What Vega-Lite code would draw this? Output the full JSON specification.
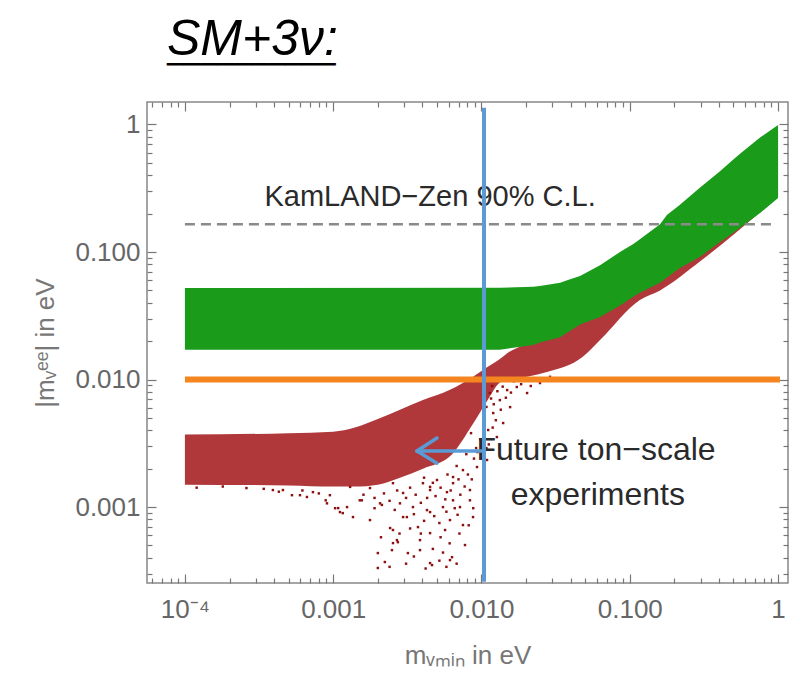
{
  "$schema": "https://vega.github.io/schema/vega-lite/v6.json",
  "width": 641,
  "height": 481,
  "autosize": {"type": "none"},
  "padding": {"left": 147, "top": 102, "right": 10, "bottom": 102},
  "background": "white",
  "config": {
    "view": {"stroke": "#888", "strokeWidth": 1.5},
    "font": "Liberation Sans"
  },
  "title": {
    "text": "SM+3ν:",
    "subtitle": "──────────",
    "anchor": "start",
    "frame": "group",
    "dx": 20,
    "offset": 21,
    "font": "Liberation Sans",
    "fontSize": 50,
    "fontStyle": "italic",
    "fontWeight": "normal",
    "color": "#000",
    "subtitleFont": "DejaVu Sans",
    "subtitleFontSize": 28,
    "subtitleColor": "#000",
    "subtitlePadding": -13
  },
  "datasets": {
    "ih_band": [
      {"x": 0.0001, "y": 0.0171, "y2": 0.0521},
      {"x": 0.0133, "y": 0.0171, "y2": 0.0525},
      {"x": 0.0223, "y": 0.0187, "y2": 0.0535},
      {"x": 0.0248, "y": 0.0195, "y2": 0.0541},
      {"x": 0.0339, "y": 0.0215, "y2": 0.0573},
      {"x": 0.0378, "y": 0.0233, "y2": 0.06},
      {"x": 0.0462, "y": 0.027, "y2": 0.0648},
      {"x": 0.063, "y": 0.031, "y2": 0.0787},
      {"x": 0.0859, "y": 0.038, "y2": 0.1},
      {"x": 0.105, "y": 0.0444, "y2": 0.115},
      {"x": 0.117, "y": 0.048, "y2": 0.126},
      {"x": 0.16, "y": 0.0573, "y2": 0.165},
      {"x": 0.178, "y": 0.063, "y2": 0.195},
      {"x": 0.218, "y": 0.075, "y2": 0.235},
      {"x": 0.298, "y": 0.0916, "y2": 0.32},
      {"x": 0.406, "y": 0.12, "y2": 0.43},
      {"x": 0.497, "y": 0.141, "y2": 0.53},
      {"x": 0.554, "y": 0.155, "y2": 0.59},
      {"x": 0.756, "y": 0.202, "y2": 0.79},
      {"x": 1.0, "y": 0.265, "y2": 0.991}
    ],
    "nh_band": [
      {"x": 0.0001, "y": 0.0015, "y2": 0.0037},
      {"x": 0.0005, "y": 0.00148, "y2": 0.0038},
      {"x": 0.001, "y": 0.00145, "y2": 0.0039},
      {"x": 0.0014, "y": 0.00145, "y2": 0.0042},
      {"x": 0.002, "y": 0.0015, "y2": 0.0049},
      {"x": 0.00282, "y": 0.0017, "y2": 0.0058},
      {"x": 0.00403, "y": 0.002, "y2": 0.0069},
      {"x": 0.00613, "y": 0.0025, "y2": 0.0083},
      {"x": 0.00877, "y": 0.0045, "y2": 0.0105},
      {"x": 0.0109, "y": 0.0068, "y2": 0.0125},
      {"x": 0.0133, "y": 0.0095, "y2": 0.0145},
      {"x": 0.0149, "y": 0.01, "y2": 0.0161},
      {"x": 0.0203, "y": 0.0105, "y2": 0.0193},
      {"x": 0.028, "y": 0.0115, "y2": 0.024},
      {"x": 0.048, "y": 0.015, "y2": 0.04},
      {"x": 0.063, "y": 0.0204, "y2": 0.055},
      {"x": 0.117, "y": 0.042, "y2": 0.1},
      {"x": 0.16, "y": 0.05, "y2": 0.14},
      {"x": 0.3, "y": 0.085, "y2": 0.28},
      {"x": 1.0, "y": 0.27, "y2": 0.9}
    ],
    "nh_points": [
      {"x": 0.002, "y": 0.000436}, {"x": 0.002, "y": 0.000333},
      {"x": 0.00273, "y": 0.000531}, {"x": 0.00385, "y": 0.000551},
      {"x": 0.00464, "y": 0.000351}, {"x": 0.00633, "y": 0.000405},
      {"x": 0.00568, "y": 0.000661}, {"x": 0.0075, "y": 0.000723},
      {"x": 0.00774, "y": 0.000504}, {"x": 0.00373, "y": 0.000697},
      {"x": 0.00296, "y": 0.000835}, {"x": 0.00242, "y": 0.000685},
      {"x": 0.00177, "y": 0.000791}, {"x": 0.00116, "y": 0.000897},
      {"x": 0.00108, "y": 0.000982}, {"x": 0.00124, "y": 0.001},
      {"x": 0.00156, "y": 0.00113}, {"x": 0.00213, "y": 0.00104},
      {"x": 0.00345, "y": 0.001}, {"x": 0.0045, "y": 0.000914},
      {"x": 0.0055, "y": 0.001}, {"x": 0.00716, "y": 0.001},
      {"x": 0.00836, "y": 0.00113}, {"x": 0.00585, "y": 0.00131},
      {"x": 0.0045, "y": 0.00136}, {"x": 0.00296, "y": 0.00129},
      {"x": 0.00253, "y": 0.00154}, {"x": 0.00403, "y": 0.00154},
      {"x": 0.00501, "y": 0.00163}, {"x": 0.00643, "y": 0.00172},
      {"x": 0.0075, "y": 0.00195}, {"x": 0.00933, "y": 0.00206},
      {"x": 0.00177, "y": 0.00141}, {"x": 0.0013, "y": 0.00144},
      {"x": 0.00613, "y": 0.000791}, {"x": 0.00249, "y": 0.00046},
      {"x": 0.00319, "y": 0.000436}, {"x": 0.0045, "y": 0.000625},
      {"x": 0.00269, "y": 0.000551}, {"x": 0.00223, "y": 0.000371},
      {"x": 0.00253, "y": 0.000522}, {"x": 0.00385, "y": 0.00046},
      {"x": 0.0045, "y": 0.000364}, {"x": 0.00613, "y": 0.000384},
      {"x": 0.0052, "y": 0.00075}, {"x": 0.00136, "y": 0.000835},
      {"x": 0.00111, "y": 0.000914}, {"x": 0.000908, "y": 0.00107},
      {"x": 0.000665, "y": 0.0012}, {"x": 0.000527, "y": 0.00124},
      {"x": 0.000458, "y": 0.00136}, {"x": 0.00253, "y": 0.000661},
      {"x": 0.00314, "y": 0.000835}, {"x": 0.00429, "y": 0.000947},
      {"x": 0.00151, "y": 0.00113}, {"x": 0.00207, "y": 0.00107},
      {"x": 0.00282, "y": 0.00107}, {"x": 0.00643, "y": 0.00113},
      {"x": 0.00836, "y": 0.00136}, {"x": 0.00877, "y": 0.000835},
      {"x": 0.00643, "y": 0.00154}, {"x": 0.0045, "y": 0.00144},
      {"x": 0.0114, "y": 0.00784}, {"x": 0.0133, "y": 0.0069},
      {"x": 0.0149, "y": 0.00827}, {"x": 0.012, "y": 0.00546},
      {"x": 0.014, "y": 0.00456}, {"x": 0.0111, "y": 0.00402},
      {"x": 0.0173, "y": 0.00874}, {"x": 0.0203, "y": 0.00784},
      {"x": 0.0248, "y": 0.00939}, {"x": 0.0127, "y": 0.00354},
      {"x": 0.0109, "y": 0.00234}, {"x": 0.0156, "y": 0.00608},
      {"x": 0.0118, "y": 0.0089}, {"x": 0.0165, "y": 0.0097},
      {"x": 0.029, "y": 0.0105}, {"x": 0.0121, "y": 0.0064},
      {"x": 0.0098, "y": 0.0034}, {"x": 0.0092, "y": 0.0029},
      {"x": 0.0085, "y": 0.0038}, {"x": 0.0079, "y": 0.0026},
      {"x": 0.0068, "y": 0.0021}, {"x": 0.000392, "y": 0.00136},
      {"x": 0.000597, "y": 0.00124}, {"x": 0.00073, "y": 0.00131},
      {"x": 0.00089, "y": 0.00113}, {"x": 0.00103, "y": 0.00098},
      {"x": 0.00012, "y": 0.00142}, {"x": 0.00018, "y": 0.00145},
      {"x": 0.00026, "y": 0.00141}, {"x": 0.00034, "y": 0.00139},
      {"x": 0.00043, "y": 0.00132}, {"x": 0.00062, "y": 0.00135},
      {"x": 0.0008, "y": 0.00128}, {"x": 0.00095, "y": 0.00124},
      {"x": 0.0016, "y": 0.00125}, {"x": 0.0019, "y": 0.00118},
      {"x": 0.0022, "y": 0.00128}, {"x": 0.0024, "y": 0.00112},
      {"x": 0.0027, "y": 0.00135}, {"x": 0.0031, "y": 0.00118},
      {"x": 0.0033, "y": 0.00142}, {"x": 0.0036, "y": 0.00125},
      {"x": 0.0039, "y": 0.00108}, {"x": 0.0041, "y": 0.0017},
      {"x": 0.0043, "y": 0.00118}, {"x": 0.0047, "y": 0.00155},
      {"x": 0.0049, "y": 0.00122}, {"x": 0.0053, "y": 0.00142},
      {"x": 0.0057, "y": 0.00115}, {"x": 0.0059, "y": 0.0018},
      {"x": 0.0062, "y": 0.00135}, {"x": 0.0066, "y": 0.00098},
      {"x": 0.007, "y": 0.00165}, {"x": 0.0072, "y": 0.00125},
      {"x": 0.0077, "y": 0.00145}, {"x": 0.0081, "y": 0.0018},
      {"x": 0.0086, "y": 0.00165}, {"x": 0.0089, "y": 0.0024},
      {"x": 0.0094, "y": 0.0027}, {"x": 0.0035, "y": 0.00088},
      {"x": 0.0041, "y": 0.00078}, {"x": 0.0048, "y": 0.00085},
      {"x": 0.0058, "y": 0.00092}, {"x": 0.0069, "y": 0.00087},
      {"x": 0.0026, "y": 0.00095}, {"x": 0.0019, "y": 0.00098},
      {"x": 0.0033, "y": 0.00068}, {"x": 0.0039, "y": 0.00062},
      {"x": 0.0053, "y": 0.00058}, {"x": 0.0061, "y": 0.00052},
      {"x": 0.0028, "y": 0.00062}, {"x": 0.0021, "y": 0.00058},
      {"x": 0.0047, "y": 0.00047}, {"x": 0.0055, "y": 0.00044},
      {"x": 0.0071, "y": 0.00062}, {"x": 0.0082, "y": 0.00072},
      {"x": 0.0088, "y": 0.00098}, {"x": 0.0035, "y": 0.00041},
      {"x": 0.0058, "y": 0.00034}, {"x": 0.0042, "y": 0.00033},
      {"x": 0.0068, "y": 0.00036}, {"x": 0.0024, "y": 0.00034},
      {"x": 0.0031, "y": 0.00036}, {"x": 0.0052, "y": 0.00038},
      {"x": 0.0112, "y": 0.0031}, {"x": 0.0125, "y": 0.0048},
      {"x": 0.0135, "y": 0.0058}, {"x": 0.0146, "y": 0.0072},
      {"x": 0.0158, "y": 0.0079}, {"x": 0.0185, "y": 0.0092},
      {"x": 0.0215, "y": 0.0089}, {"x": 0.0105, "y": 0.0052},
      {"x": 0.0108, "y": 0.0061}, {"x": 0.0116, "y": 0.0071},
      {"x": 0.0128, "y": 0.0081}, {"x": 0.0139, "y": 0.0088},
      {"x": 0.0108, "y": 0.0029}, {"x": 0.0119, "y": 0.0042}
    ],
    "bounds": [
      {"kind": "orange", "x": 0.0001, "x2": 1.03, "y": 0.01},
      {"kind": "kamland", "x": 0.0001, "x2": 0.955, "y": 0.165}
    ],
    "pointer": [
      {"kind": "vline", "x": 0.0104, "y": 0.00026, "y2": 1.35},
      {"kind": "arrow", "x": 0.00367, "x2": 0.0104, "y": 0.00275, "y2": 0.00275},
      {"kind": "arrow", "x": 0.00367, "x2": 0.00501, "y": 0.00275, "y2": 0.00348},
      {"kind": "arrow", "x": 0.00367, "x2": 0.00501, "y": 0.00275, "y2": 0.00221}
    ],
    "notes": [
      {"role": "limit", "x": 0.0045, "y": 0.27, "t": "KamLAND−Zen 90% C.L."},
      {"role": "future", "x": 0.0592, "y": 0.0028, "t": "Future ton−scale"},
      {"role": "future", "x": 0.0609, "y": 0.00124, "t": "experiments"}
    ]
  },
  "encoding": {
    "x": {"field": "x", "type": "quantitative", "scale": {"type": "log", "domain": [0.0000555, 1.167], "nice": false}, "axis": null},
    "y": {"field": "y", "type": "quantitative", "scale": {"type": "log", "domain": [0.000254, 1.5], "nice": false}, "axis": null}
  },
  "layer": [
    {
      "data": {"name": "nh_band"},
      "mark": {"type": "area", "color": "#a51d20", "opacity": 0.88, "interpolate": "monotone"},
      "encoding": {
        "x": {
          "field": "x", "type": "quantitative",
          "scale": {"type": "log", "domain": [0.0000555, 1.167], "nice": false},
          "axis": {
            "orient": "top", "labels": false, "title": null, "domain": false, "grid": false,
            "values": [0.00006, 0.00007, 0.00008, 0.00009, 0.0001, 0.0002, 0.0003, 0.0004, 0.0005, 0.0006, 0.0007, 0.0008, 0.0009, 0.001, 0.002, 0.003, 0.004, 0.005, 0.006, 0.007, 0.008, 0.009, 0.01, 0.02, 0.03, 0.04, 0.05, 0.06, 0.07, 0.08, 0.09, 0.1, 0.2, 0.3, 0.4, 0.5, 0.6, 0.7, 0.8, 0.9, 1],
            "tickColor": "#777", "tickWidth": 1.2,
            "tickSize": {"condition": {"test": "datum.value === 1 || datum.value === 0.1 || datum.value === 0.01 || datum.value === 0.001 || datum.value === 0.0001", "value": -9}, "value": -5}
          }
        },
        "y": {
          "field": "y", "type": "quantitative",
          "scale": {"type": "log", "domain": [0.000254, 1.5], "nice": false},
          "axis": {
            "orient": "right", "labels": false, "title": null, "domain": false, "grid": false,
            "values": [0.0003, 0.0004, 0.0005, 0.0006, 0.0007, 0.0008, 0.0009, 0.001, 0.002, 0.003, 0.004, 0.005, 0.006, 0.007, 0.008, 0.009, 0.01, 0.02, 0.03, 0.04, 0.05, 0.06, 0.07, 0.08, 0.09, 0.1, 0.2, 0.3, 0.4, 0.5, 0.6, 0.7, 0.8, 0.9, 1],
            "tickColor": "#777", "tickWidth": 1.2,
            "tickSize": {"condition": {"test": "datum.value === 1 || datum.value === 0.1 || datum.value === 0.01 || datum.value === 0.001", "value": -9}, "value": -5}
          }
        },
        "y2": {"field": "y2"}
      }
    },
    {
      "data": {"name": "nh_points"},
      "mark": {"type": "point", "shape": "square", "filled": true, "size": 6, "color": "#8b1111", "opacity": 1}
    },
    {
      "data": {"name": "ih_band"},
      "mark": {"type": "area", "color": "#1a9c1a"},
      "encoding": {
        "x": {
          "field": "x", "type": "quantitative",
          "scale": {"type": "log", "domain": [0.0000555, 1.167], "nice": false},
          "axis": {
            "orient": "bottom", "domain": false, "grid": false,
            "values": [0.00006, 0.00007, 0.00008, 0.00009, 0.0001, 0.0002, 0.0003, 0.0004, 0.0005, 0.0006, 0.0007, 0.0008, 0.0009, 0.001, 0.002, 0.003, 0.004, 0.005, 0.006, 0.007, 0.008, 0.009, 0.01, 0.02, 0.03, 0.04, 0.05, 0.06, 0.07, 0.08, 0.09, 0.1, 0.2, 0.3, 0.4, 0.5, 0.6, 0.7, 0.8, 0.9, 1],
            "labelExpr": "datum.value === 0.0001 ? '10⁻⁴' : datum.value === 0.001 ? '0.001' : datum.value === 0.01 ? '0.010' : datum.value === 0.1 ? '0.100' : datum.value === 1 ? '1' : ''",
            "tickColor": "#777", "tickWidth": 1.2,
            "tickSize": {"condition": {"test": "datum.value === 1 || datum.value === 0.1 || datum.value === 0.01 || datum.value === 0.001 || datum.value === 0.0001", "value": -9}, "value": -5},
            "labelPadding": 22, "labelFont": "Liberation Sans", "labelFontSize": 26, "labelColor": "#666",
            "labelFlush": false, "labelOverlap": false, "labelBound": false,
            "title": "mᵥₘᵢₙ in eV", "titleFont": "Liberation Sans", "titleFontSize": 26, "titleFontWeight": "normal", "titleColor": "#777", "titlePadding": 16
          }
        },
        "y": {
          "field": "y", "type": "quantitative",
          "scale": {"type": "log", "domain": [0.000254, 1.5], "nice": false},
          "axis": {
            "orient": "left", "domain": false, "grid": false,
            "values": [0.0003, 0.0004, 0.0005, 0.0006, 0.0007, 0.0008, 0.0009, 0.001, 0.002, 0.003, 0.004, 0.005, 0.006, 0.007, 0.008, 0.009, 0.01, 0.02, 0.03, 0.04, 0.05, 0.06, 0.07, 0.08, 0.09, 0.1, 0.2, 0.3, 0.4, 0.5, 0.6, 0.7, 0.8, 0.9, 1],
            "labelExpr": "datum.value === 1 ? '1' : datum.value === 0.1 ? '0.100' : datum.value === 0.01 ? '0.010' : datum.value === 0.001 ? '0.001' : ''",
            "tickColor": "#777", "tickWidth": 1.2,
            "tickSize": {"condition": {"test": "datum.value === 1 || datum.value === 0.1 || datum.value === 0.01 || datum.value === 0.001", "value": -9}, "value": -5},
            "labelPadding": 16, "labelFont": "Liberation Sans", "labelFontSize": 26, "labelColor": "#666",
            "labelFlush": false, "labelOverlap": false, "labelBound": false,
            "title": "|mᵥᵉᵉ| in eV", "titleFont": "Liberation Sans", "titleFontSize": 26, "titleFontWeight": "normal", "titleColor": "#777", "titlePadding": 16
          }
        },
        "y2": {"field": "y2"}
      }
    },
    {
      "data": {"name": "bounds"},
      "transform": [{"filter": "datum.kind === 'orange'"}],
      "mark": {"type": "rule", "color": "#f5861f", "strokeWidth": 6},
      "encoding": {"x2": {"field": "x2"}}
    },
    {
      "data": {"name": "bounds"},
      "transform": [{"filter": "datum.kind === 'kamland'"}],
      "mark": {"type": "rule", "color": "#8a8a8a", "strokeWidth": 2.5, "strokeDash": [10, 6]},
      "encoding": {"x2": {"field": "x2"}}
    },
    {
      "data": {"name": "notes"},
      "transform": [{"filter": "datum.role === 'limit'"}],
      "mark": {"type": "text", "font": "Liberation Sans", "fontSize": 29, "color": "#2a2a2a", "align": "center", "baseline": "middle"},
      "encoding": {"text": {"field": "t"}}
    },
    {
      "data": {"name": "notes"},
      "transform": [{"filter": "datum.role === 'future'"}],
      "mark": {"type": "text", "font": "Liberation Sans", "fontSize": 32, "color": "#2a2a2a", "align": "center", "baseline": "middle"},
      "encoding": {"text": {"field": "t"}}
    },
    {
      "data": {"name": "pointer"},
      "transform": [{"filter": "datum.kind === 'vline'"}],
      "mark": {"type": "rule", "color": "#5b9bd5", "strokeWidth": 4},
      "encoding": {"y2": {"field": "y2"}}
    },
    {
      "data": {"name": "pointer"},
      "transform": [{"filter": "datum.kind === 'arrow'"}],
      "mark": {"type": "rule", "color": "#5b9bd5", "strokeWidth": 3.5, "strokeCap": "round"},
      "encoding": {"x2": {"field": "x2"}, "y2": {"field": "y2"}}
    }
  ],
  "resolve": {"axis": {"x": "independent", "y": "independent"}}
}
